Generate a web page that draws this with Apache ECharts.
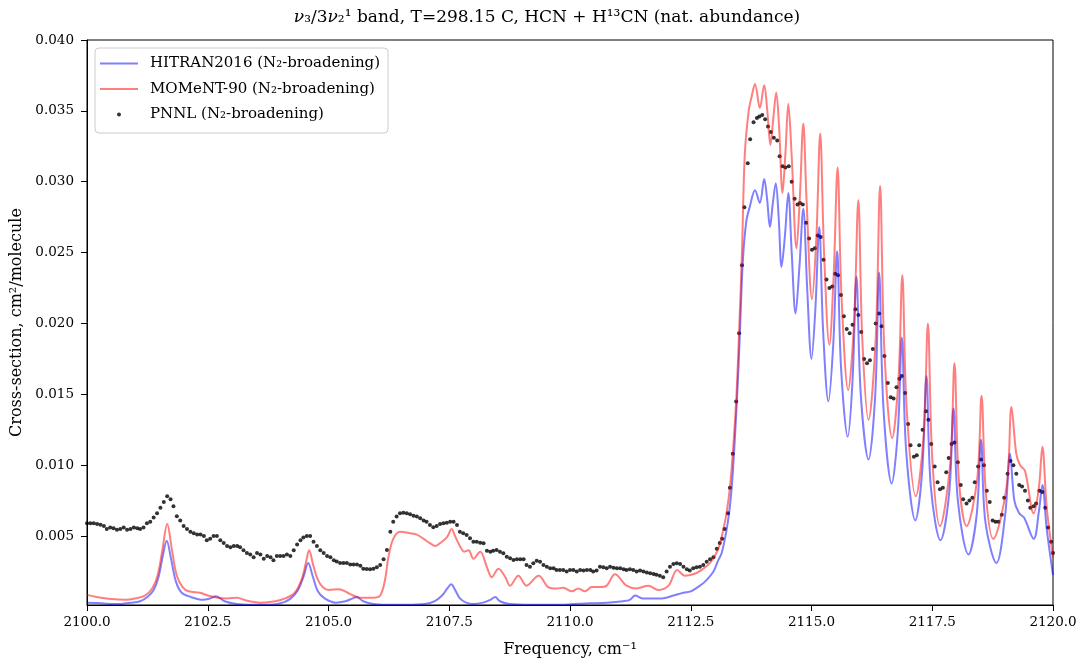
<!DOCTYPE html>
<html><head><meta charset="utf-8">
<script src="https://cdn.jsdelivr.net/npm/echarts@6/dist/echarts.min.js"></script>
<style>html,body{margin:0;padding:0;background:#fff}#c{width:1083px;height:665px}</style>
</head><body><div id="c"></div>
<script>
const titleText = '{it|ν}₃/3{it|ν}₂¹ band, T=298.15 C, HCN + H¹³CN (nat. abundance)';
const xTicks = [2100, 2102.5, 2105, 2107.5, 2110, 2112.5, 2115, 2117.5, 2120];
const yTicks = [0.005, 0.010, 0.015, 0.020, 0.025, 0.030, 0.035, 0.040];
const seriesNames = ['HITRAN2016 (N₂-broadening)', 'MOMeNT-90 (N₂-broadening)', 'PNNL (N₂-broadening)'];

const hitran = [
[2100.0,0.0003],[2100.3,0.00025],[2100.6,0.0002],[2100.9,0.0003],[2101.1,0.0004],[2101.25,0.0007],[2101.38,0.0012],[2101.48,0.0021],[2101.57,0.0036],[2101.65,0.00467],[2101.74,0.0034],[2101.84,0.0018],[2101.96,0.0010],[2102.15,0.0007],[2102.4,0.0005],[2102.55,0.0006],[2102.67,0.00075],[2102.85,0.0004],[2103.1,0.0002],[2103.4,0.00015],[2103.8,0.00015],[2104.05,0.0003],[2104.22,0.0006],[2104.37,0.0012],[2104.48,0.0021],[2104.58,0.0031],[2104.67,0.0022],[2104.78,0.0011],[2104.92,0.0006],[2105.15,0.0003],[2105.35,0.0004],[2105.5,0.0006],[2105.58,0.0007],[2105.72,0.0004],[2105.93,0.0002],[2106.2,0.00015],[2106.6,0.00015],[2107.0,0.0002],[2107.2,0.0004],[2107.35,0.0008],[2107.46,0.0013],[2107.54,0.0016],[2107.62,0.0012],[2107.72,0.0006],[2107.85,0.0003],[2108.0,0.0002],[2108.2,0.0003],[2108.35,0.0005],[2108.45,0.0007],[2108.55,0.0004],[2108.75,0.0002],[2109.2,0.00015],[2109.8,0.00015],[2110.07,0.0002],[2110.4,0.00025],[2110.76,0.0003],[2111.1,0.0004],[2111.24,0.0005],[2111.35,0.0008],[2111.5,0.0006],[2111.7,0.0006],[2111.9,0.0006],[2112.14,0.0008],[2112.35,0.0010],[2112.5,0.0011],[2112.69,0.0015],[2112.8,0.0018],[2112.97,0.0025],[2113.07,0.0033],[2113.14,0.0038],[2113.24,0.0054],[2113.3,0.0068],[2113.35,0.0085],[2113.42,0.0123],[2113.49,0.0170],[2113.53,0.0205],
[2113.58,0.0245],[2113.65,0.0272],[2113.72,0.0282],[2113.83,0.0294],[2113.93,0.0285],[2114.02,0.0302],[2114.08,0.0288],[2114.14,0.0268],[2114.2,0.0285],[2114.26,0.0299],[2114.32,0.0275],[2114.38,0.0240],[2114.45,0.0262],[2114.52,0.0292],[2114.59,0.0250],[2114.67,0.0207],[2114.75,0.0240],[2114.83,0.0281],[2114.91,0.0225],[2115.0,0.0175],[2115.08,0.0210],[2115.16,0.0268],[2115.24,0.0195],[2115.35,0.0145],[2115.45,0.0185],[2115.53,0.0251],[2115.61,0.0170],[2115.75,0.0120],[2115.85,0.0160],[2115.93,0.0233],[2116.02,0.0150],[2116.18,0.0104],[2116.32,0.0150],[2116.40,0.0236],[2116.49,0.0140],[2116.66,0.0087],[2116.79,0.0125],[2116.87,0.0190],[2116.96,0.0110],[2117.15,0.0061],[2117.29,0.0095],[2117.38,0.0163],[2117.47,0.0085],[2117.67,0.0047],[2117.85,0.0080],[2117.94,0.0140],[2118.03,0.0075],[2118.25,0.0037],[2118.42,0.0065],[2118.51,0.0118],[2118.60,0.0060],[2118.83,0.0031],[2119.01,0.0065],[2119.11,0.0108],[2119.2,0.0075],[2119.3,0.0066],[2119.4,0.0063],[2119.6,0.0048],[2119.71,0.0068],[2119.78,0.0086],[2119.87,0.0055],[2120.0,0.00225]
];

const moment = [
[2100.00,0.00085],[2100.2,0.0007],[2100.5,0.00055],[2100.8,0.0005],[2101.0,0.0006],[2101.2,0.0008],[2101.35,0.0013],[2101.46,0.0022],[2101.56,0.0040],[2101.66,0.00585],[2101.76,0.0040],[2101.86,0.0022],[2101.98,0.0014],[2102.1,0.0011],[2102.34,0.0010],[2102.5,0.0008],[2102.7,0.00065],[2102.9,0.0006],[2103.1,0.00065],[2103.3,0.00045],[2103.6,0.0003],[2103.9,0.0004],[2104.1,0.0006],[2104.3,0.0010],[2104.45,0.0020],[2104.53,0.0031],[2104.6,0.0040],[2104.68,0.0030],[2104.77,0.0020],[2104.88,0.0014],[2105.0,0.0012],[2105.22,0.00125],[2105.45,0.0009],[2105.65,0.00065],[2105.93,0.00065],[2106.07,0.0008],[2106.17,0.0019],[2106.24,0.0035],[2106.34,0.0048],[2106.48,0.0053],[2106.69,0.0052],[2106.83,0.0051],[2106.97,0.0048],[2107.1,0.0045],[2107.21,0.0043],[2107.31,0.0045],[2107.45,0.0049],[2107.55,0.0055],[2107.62,0.0050],[2107.72,0.0043],[2107.81,0.0039],[2107.9,0.0040],[2108.0,0.0034],[2108.14,0.0039],[2108.28,0.0028],[2108.38,0.0021],[2108.52,0.0027],[2108.66,0.0021],[2108.76,0.0015],[2108.93,0.0022],[2109.1,0.0015],[2109.35,0.0022],[2109.55,0.0014],[2109.72,0.0013],[2109.86,0.00135],[2110.04,0.0011],[2110.17,0.0013],[2110.31,0.0011],[2110.45,0.0014],[2110.62,0.0014],[2110.76,0.0015],[2110.93,0.0023],[2111.17,0.0015],[2111.38,0.0013],[2111.62,0.0015],[2111.83,0.0012],[2112.04,0.0015],[2112.22,0.0026],[2112.38,0.0022],[2112.55,0.0023],[2112.72,0.0026],[2112.9,0.0031],
[2113.07,0.0041],[2113.17,0.0054],[2113.24,0.0066],[2113.31,0.0084],[2113.37,0.0108],[2113.44,0.0145],[2113.5,0.0193],[2113.56,0.0250],[2113.62,0.0320],[2113.7,0.0350],[2113.76,0.0360],[2113.83,0.0369],[2113.93,0.0352],[2114.02,0.0368],[2114.08,0.0352],[2114.15,0.0326],[2114.21,0.0345],[2114.27,0.0363],[2114.33,0.0338],[2114.40,0.0292],[2114.46,0.0320],[2114.52,0.0355],[2114.59,0.0318],[2114.69,0.0253],[2114.76,0.0290],[2114.83,0.0341],[2114.90,0.0285],[2115.01,0.0217],[2115.10,0.0260],[2115.18,0.0334],[2115.26,0.0250],[2115.37,0.0185],[2115.46,0.0235],[2115.54,0.0310],[2115.62,0.0220],[2115.76,0.0153],[2115.88,0.0200],[2115.97,0.0287],[2116.05,0.0190],[2116.18,0.0132],[2116.33,0.0190],[2116.42,0.0297],[2116.51,0.0180],[2116.67,0.0119],[2116.8,0.0160],[2116.88,0.0234],[2116.97,0.0140],[2117.16,0.0078],[2117.32,0.0120],[2117.41,0.0200],[2117.5,0.0105],[2117.66,0.0057],[2117.87,0.0100],[2117.96,0.0172],[2118.05,0.0090],[2118.21,0.0057],[2118.43,0.0090],[2118.52,0.0149],[2118.61,0.0080],[2118.76,0.0048],[2119.04,0.0085],[2119.14,0.0141],[2119.24,0.0108],[2119.32,0.0100],[2119.42,0.0096],[2119.6,0.0066],[2119.71,0.0085],[2119.78,0.0113],[2119.87,0.0070],[2120.0,0.0035]
];

const pnnl = [
[2100.00,0.0059],[2100.07,0.0059],[2100.14,0.0059],[2100.21,0.00585],[2100.28,0.0058],[2100.35,0.0057],[2100.41,0.0055],[2100.48,0.0056],[2100.55,0.00555],[2100.62,0.00545],[2100.69,0.0055],[2100.76,0.0056],[2100.83,0.00545],[2100.90,0.0055],[2100.97,0.0056],[2101.04,0.00555],[2101.10,0.0055],[2101.17,0.0056],[2101.24,0.0059],[2101.31,0.0060],[2101.38,0.0063],[2101.45,0.0066],[2101.52,0.0070],[2101.59,0.0074],[2101.66,0.0078],[2101.73,0.0076],[2101.79,0.0071],[2101.86,0.0064],[2101.93,0.0061],[2102.00,0.0057],[2102.07,0.0055],[2102.14,0.0053],[2102.21,0.0052],[2102.28,0.0051],[2102.35,0.0051],[2102.42,0.0050],[2102.48,0.0047],[2102.55,0.0048],[2102.62,0.0050],[2102.69,0.0050],[2102.76,0.0047],[2102.83,0.0045],[2102.90,0.0043],[2102.97,0.0042],[2103.04,0.0043],[2103.11,0.0043],[2103.17,0.0042],[2103.24,0.0040],[2103.31,0.0038],[2103.38,0.0037],[2103.45,0.0035],[2103.52,0.0038],[2103.59,0.0037],[2103.66,0.0034],[2103.73,0.0036],[2103.80,0.0035],[2103.86,0.0033],[2103.93,0.0036],[2104.00,0.0036],[2104.07,0.0036],[2104.14,0.0037],[2104.21,0.0036],[2104.28,0.0040],[2104.35,0.0044],[2104.42,0.0047],[2104.48,0.0049],[2104.55,0.0050],[2104.62,0.0050],[2104.69,0.0046],[2104.76,0.0043],[2104.83,0.0040],[2104.90,0.0038],[2104.97,0.0036],[2105.04,0.0035],[2105.11,0.0033],[2105.17,0.0032],[2105.24,0.0031],[2105.31,0.0031],[2105.38,0.0031],[2105.45,0.0030],[2105.52,0.0030],[2105.59,0.0030],[2105.66,0.0029],
[2105.72,0.0027],[2105.79,0.00268],[2105.86,0.00265],[2105.93,0.0027],[2106.00,0.0028],[2106.07,0.00296],[2106.14,0.00336],[2106.21,0.00402],[2106.28,0.00531],[2106.34,0.00601],[2106.41,0.00637],[2106.48,0.0066],[2106.55,0.00665],[2106.62,0.0066],[2106.69,0.00653],[2106.76,0.00644],[2106.83,0.00637],[2106.90,0.00625],[2106.97,0.00609],[2107.03,0.00601],[2107.10,0.00578],[2107.17,0.00562],[2107.24,0.00571],[2107.31,0.00585],[2107.38,0.0059],[2107.45,0.00594],[2107.52,0.006],[2107.59,0.006],[2107.66,0.00578],[2107.72,0.00531],[2107.79,0.00519],[2107.86,0.00507],[2107.93,0.00484],[2108.00,0.0046],[2108.07,0.0046],[2108.14,0.00453],[2108.21,0.00449],[2108.28,0.00397],[2108.35,0.0039],[2108.41,0.00397],[2108.48,0.00402],[2108.55,0.0039],[2108.62,0.00378],[2108.69,0.00354],[2108.76,0.00343],[2108.83,0.00331],[2108.90,0.00336],[2108.97,0.00336],[2109.04,0.00336],[2109.10,0.00296],[2109.17,0.00284],[2109.24,0.00308],[2109.31,0.00326],[2109.38,0.00319],[2109.45,0.00296],[2109.52,0.00284],[2109.59,0.00272],[2109.66,0.00272],[2109.72,0.00261],[2109.79,0.00261],[2109.86,0.00261],[2109.93,0.0025],[2110.00,0.00261],[2110.07,0.00261],[2110.14,0.0025],[2110.21,0.00261],[2110.28,0.00256],[2110.35,0.00261],[2110.42,0.00261],[2110.48,0.0025],[2110.55,0.00256],[2110.62,0.00284],[2110.69,0.0028],[2110.76,0.00272],[2110.83,0.00284],[2110.90,0.00277],[2110.97,0.00272],[2111.04,0.00272],[2111.11,0.00265],[2111.17,0.00261],[2111.24,0.00265],[2111.31,0.00261],[2111.38,0.0025],[2111.45,0.00256],[2111.52,0.0025],[2111.59,0.00242],[2111.66,0.00238],[2111.73,0.00233],[2111.79,0.00226],[2111.86,0.00219],[2111.93,0.00209],[2112.00,0.0025],[2112.07,0.00284],[2112.14,0.00303],[2112.21,0.00308],[2112.28,0.00303],[2112.35,0.00284],[2112.42,0.00265],[2112.48,0.00256],[2112.55,0.00272],[2112.62,0.0028],[2112.69,0.00284],[2112.76,0.00296],[2112.83,0.00319],[2112.90,0.00336],
[2112.97,0.0035],[2113.04,0.0041],[2113.10,0.0045],[2113.15,0.0048],[2113.20,0.0055],[2113.27,0.0066],[2113.31,0.0084],[2113.37,0.0108],[2113.44,0.0145],[2113.50,0.0193],[2113.56,0.0241],[2113.61,0.0282],[2113.68,0.0313],[2113.73,0.0330],[2113.80,0.0342],[2113.87,0.0345],[2113.92,0.0346],[2113.98,0.0347],[2114.04,0.0344],[2114.10,0.0339],[2114.16,0.0335],[2114.22,0.0331],[2114.29,0.0329],[2114.34,0.0318],[2114.40,0.0311],[2114.46,0.0310],[2114.53,0.0311],[2114.59,0.0300],[2114.65,0.0288],[2114.71,0.0284],[2114.76,0.0285],[2114.82,0.0284],[2114.89,0.0271],[2114.95,0.0260],[2115.01,0.0252],[2115.07,0.0253],[2115.13,0.0262],[2115.19,0.0261],[2115.25,0.0245],[2115.31,0.0231],[2115.37,0.0225],[2115.43,0.0226],[2115.49,0.0235],[2115.55,0.0234],[2115.61,0.0220],[2115.67,0.0205],[2115.73,0.0196],[2115.79,0.0193],[2115.85,0.0199],[2115.91,0.0210],[2115.97,0.0206],[2116.03,0.0194],[2116.09,0.0175],[2116.15,0.0172],[2116.21,0.0174],[2116.27,0.0182],[2116.33,0.0200],[2116.40,0.0207],[2116.45,0.0198],[2116.51,0.0177],[2116.58,0.0158],[2116.64,0.0148],[2116.70,0.0147],[2116.76,0.0155],[2116.82,0.0161],[2116.87,0.0163],[2116.94,0.0151],[2117.00,0.0129],[2117.05,0.0114],[2117.12,0.0106],[2117.18,0.0107],[2117.23,0.0114],[2117.30,0.0125],[2117.37,0.0138],[2117.42,0.0132],[2117.48,0.0115],[2117.55,0.0099],[2117.61,0.0088],[2117.66,0.0083],[2117.72,0.0084],[2117.79,0.0095],[2117.84,0.0105],[2117.90,0.0115],[2117.96,0.0116],[2118.03,0.0102],[2118.09,0.0086],[2118.14,0.0076],[2118.21,0.0073],[2118.27,0.0075],[2118.33,0.0077],[2118.38,0.0088],[2118.45,0.0099],[2118.51,0.0104],[2118.57,0.0100],[2118.63,0.0082],[2118.69,0.0074],[2118.75,0.0061],[2118.81,0.0060],[2118.87,0.0060],[2118.94,0.0065],[2118.99,0.0077],[2119.06,0.0094],[2119.12,0.0103],[2119.18,0.0100],[2119.24,0.0094],[2119.30,0.0086],[2119.36,0.0085],[2119.42,0.0082],[2119.48,0.0075],[2119.53,0.0070],[2119.60,0.0071],[2119.65,0.0073],[2119.72,0.0082],[2119.78,0.0081],[2119.84,0.0070],[2119.90,0.0056],[2119.96,0.0046],[2120.00,0.0038]
];

const FONT = 'DejaVu Serif';
const LINE_ICON = 'path://M0,0H38V2H0Z';
const chart = echarts.init(document.getElementById('c'), null, {renderer: 'canvas'});
chart.setOption({
  animation: false,
  backgroundColor: '#fff',
  textStyle: {fontFamily: FONT, color: '#000'},
  title: {
    text: titleText, left: 542, textAlign: 'center', top: 4,
    textStyle: {fontFamily: FONT, fontSize: 17, fontWeight: 'normal', color: '#000',
      rich: {it: {fontFamily: FONT, fontSize: 17, fontStyle: 'italic', color: '#000'}}}
  },
  grid: {left: 87, right: 30, top: 40, bottom: 60, show: true, borderColor: '#000', borderWidth: 1, backgroundColor: 'transparent'},
  legend: {
    orient: 'vertical', left: 95, top: 48,
    data: [
      {name: seriesNames[0], icon: LINE_ICON},
      {name: seriesNames[1], icon: LINE_ICON},
      {name: seriesNames[2], icon: 'circle'}
    ],
    itemWidth: 38, itemHeight: 4, itemGap: 10.5,
    padding: [8, 8, 11, 5],
    borderColor: '#cccccc', borderWidth: 1, borderRadius: 4,
    backgroundColor: 'rgba(255,255,255,0.8)',
    textStyle: {fontFamily: FONT, fontSize: 15, color: '#000', padding: [0, 0, 0, 7]}
  },
  xAxis: {
    type: 'value', min: 2100, max: 2120, interval: 2.5,
    name: 'Frequency, cm⁻¹', nameLocation: 'middle', nameGap: 37,
    nameTextStyle: {fontFamily: FONT, fontSize: 16, color: '#000'},
    axisLine: {show: true, onZero: false, lineStyle: {color: '#000', width: 1}},
    axisTick: {show: true, inside: false, length: 6, lineStyle: {color: '#000'}},
    axisLabel: {fontFamily: FONT, fontSize: 13.5, color: '#000', margin: 10, formatter: v => v.toFixed(1)},
    splitLine: {show: false}
  },
  yAxis: {
    type: 'value', min: 0.000134, max: 0.040,
    name: 'Cross-section, cm²/molecule', nameLocation: 'middle', nameGap: 62,
    nameTextStyle: {fontFamily: FONT, fontSize: 16, color: '#000'},
    axisLine: {show: true, onZero: false, lineStyle: {color: '#000', width: 1}},
    axisTick: {show: true, inside: false, length: 6, lineStyle: {color: '#000'}, customValues: yTicks},
    axisLabel: {fontFamily: FONT, fontSize: 13.5, color: '#000', margin: 13, customValues: yTicks, formatter: v => v.toFixed(3)},
    splitLine: {show: false}
  },
  series: [
    {name: seriesNames[0], type: 'line', data: hitran, symbol: 'none', showSymbol: false, smooth: 0.35, z: 3,
     lineStyle: {color: 'rgba(0,0,255,0.5)', width: 2}, itemStyle: {color: 'rgba(0,0,255,0.5)'}},
    {name: seriesNames[1], type: 'line', data: moment, symbol: 'none', showSymbol: false, smooth: 0.35, z: 4,
     lineStyle: {color: 'rgba(255,0,0,0.5)', width: 2}, itemStyle: {color: 'rgba(255,0,0,0.5)'}},
    {name: seriesNames[2], type: 'scatter', data: pnnl, symbol: 'circle', symbolSize: 4, z: 2,
     itemStyle: {color: '#000'}}
  ]
});
</script></body></html>
